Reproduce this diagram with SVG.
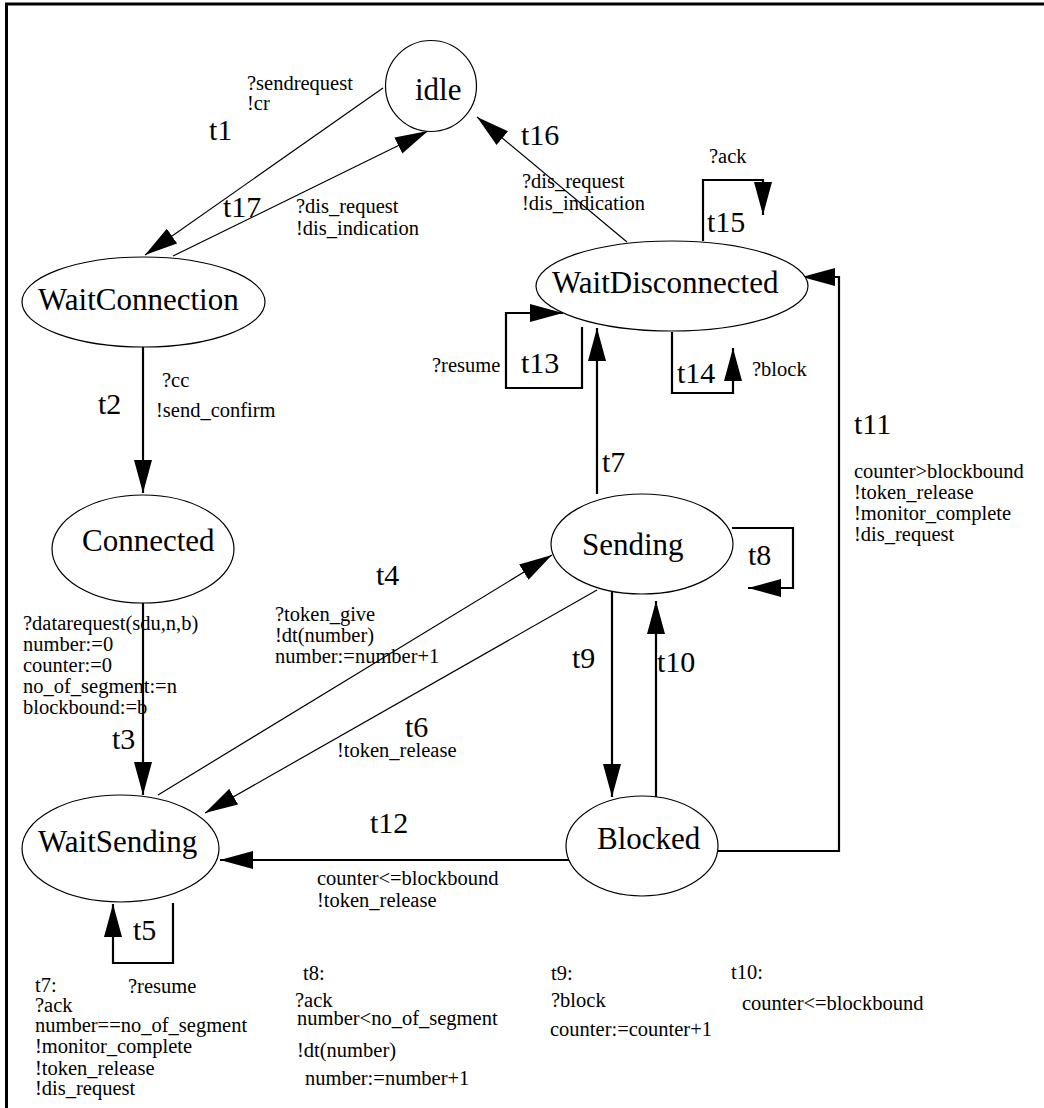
<svg xmlns="http://www.w3.org/2000/svg" width="1044" height="1108" viewBox="0 0 1044 1108">
<style>
text{font-family:"Liberation Serif","Times New Roman",serif;fill:#000}
.n{font-size:31px}
.t{font-size:30px}
.s{font-size:20.5px}
.node{fill:#fff;stroke:#000;stroke-width:1.2}
.d{fill:none;stroke:#000;stroke-width:1.2}
.o{fill:none;stroke:#000;stroke-width:2.2}
</style>
<defs>
<marker id="ah" viewBox="0 0 33 18" refX="33" refY="9" markerWidth="33" markerHeight="18" markerUnits="userSpaceOnUse" orient="auto">
<path d="M0,0 L33,9 L0,18 z" fill="#000"/>
</marker>
</defs>
<rect width="1044" height="1108" fill="#fff"/>
<path d="M6.5,1108 V4 H1044" fill="none" stroke="#000" stroke-width="3"/>

<g id="connectors">
<line class="d" x1="383" y1="88" x2="145" y2="255" marker-end="url(#ah)"/>
<line class="d" x1="173" y1="256" x2="428" y2="131" marker-end="url(#ah)"/>
<line class="d" x1="627" y1="242" x2="477" y2="117" marker-end="url(#ah)"/>
<line class="d" x1="158" y1="795" x2="552" y2="555" marker-end="url(#ah)"/>
<line class="d" x1="597" y1="590" x2="205" y2="813" marker-end="url(#ah)"/>
<line class="o" x1="143" y1="347" x2="143" y2="493" marker-end="url(#ah)"/>
<line class="o" x1="143" y1="603" x2="143" y2="795" marker-end="url(#ah)"/>
<line class="o" x1="597" y1="494" x2="597" y2="328" marker-end="url(#ah)"/>
<line class="o" x1="612" y1="588" x2="612" y2="797" marker-end="url(#ah)"/>
<line class="o" x1="656" y1="797" x2="656" y2="601" marker-end="url(#ah)"/>
<line class="o" x1="569" y1="860" x2="220" y2="860" marker-end="url(#ah)"/>
<path class="o" d="M718,851 H839 V277 H802" marker-end="url(#ah)"/>
<path class="o" d="M732,528 H793 V588 H748" marker-end="url(#ah)"/>
<path class="o" d="M582,327 V388 H506 V313 H563" marker-end="url(#ah)"/>
<path class="o" d="M672,332 V393 H733 V348" marker-end="url(#ah)"/>
<path class="o" d="M703,241 V180 H763 V215" marker-end="url(#ah)"/>
<path class="o" d="M173,903 V963 H113 V904" marker-end="url(#ah)"/>
</g>

<g id="idle"><circle class="node" cx="431" cy="86" r="45.5"/><text class="n" x="415" y="100">idle</text></g>
<g id="WaitConnection"><ellipse class="node" cx="143.5" cy="302" rx="121.5" ry="45"/><text class="n" x="38" y="310">WaitConnection</text></g>
<g id="WaitDisconnected"><ellipse class="node" cx="672" cy="286" rx="136" ry="45"/><text class="n" x="552" y="293">WaitDisconnected</text></g>
<g id="Connected"><ellipse class="node" cx="143" cy="549" rx="91" ry="54"/><text class="n" x="82" y="551">Connected</text></g>
<g id="Sending"><ellipse class="node" cx="642" cy="544" rx="91" ry="50"/><text class="n" x="582" y="555">Sending</text></g>
<g id="WaitSending"><ellipse class="node" cx="120.5" cy="848.5" rx="98.5" ry="53.5"/><text class="n" x="38" y="852">WaitSending</text></g>
<g id="Blocked"><ellipse class="node" cx="642" cy="846" rx="76" ry="50"/><text class="n" x="597" y="849">Blocked</text></g>

<g id="labels">
<text class="t" x="209" y="140">t1</text>
<text class="s" x="247" y="90">?sendrequest</text>
<text class="s" x="247" y="110">!cr</text>
<text class="t" x="223" y="217">t17</text>
<text class="s" x="296" y="213">?dis_request</text>
<text class="s" x="296" y="235">!dis_indication</text>
<text class="t" x="521" y="145">t16</text>
<text class="s" x="522" y="188">?dis_request</text>
<text class="s" x="522" y="210">!dis_indication</text>
<text class="s" x="709" y="163">?ack</text>
<text class="t" x="707" y="232">t15</text>
<text class="t" x="521" y="373">t13</text>
<text class="s" x="432" y="372">?resume</text>
<text class="t" x="677" y="383">t14</text>
<text class="s" x="752" y="376">?block</text>
<text class="t" x="854" y="434">t11</text>
<text class="s" x="854" y="478">counter&gt;blockbound</text>
<text class="s" x="854" y="499">!token_release</text>
<text class="s" x="854" y="520">!monitor_complete</text>
<text class="s" x="854" y="541">!dis_request</text>
<text class="t" x="98" y="414">t2</text>
<text class="s" x="162" y="387">?cc</text>
<text class="s" x="156" y="417">!send_confirm</text>
<text class="t" x="602" y="472">t7</text>
<text class="t" x="748" y="565">t8</text>
<text class="t" x="376" y="585">t4</text>
<text class="s" x="275" y="621">?token_give</text>
<text class="s" x="275" y="642">!dt(number)</text>
<text class="s" x="275" y="663">number:=number+1</text>
<text class="s" x="23" y="630">?datarequest(sdu,n,b)</text>
<text class="s" x="23" y="651">number:=0</text>
<text class="s" x="23" y="672">counter:=0</text>
<text class="s" x="23" y="693">no_of_segment:=n</text>
<text class="s" x="23" y="714">blockbound:=b</text>
<text class="t" x="112" y="749">t3</text>
<text class="t" x="405" y="737">t6</text>
<text class="s" x="337" y="757">!token_release</text>
<text class="t" x="572" y="668">t9</text>
<text class="t" x="657" y="672">t10</text>
<text class="t" x="370" y="833">t12</text>
<text class="s" x="317" y="885">counter&lt;=blockbound</text>
<text class="s" x="317" y="907">!token_release</text>
<text class="t" x="133" y="940">t5</text>
<text class="s" x="35" y="992">t7:</text>
<text class="s" x="128" y="993">?resume</text>
<text class="s" x="35" y="1012">?ack</text>
<text class="s" x="35" y="1032">number==no_of_segment</text>
<text class="s" x="35" y="1053">!monitor_complete</text>
<text class="s" x="35" y="1075">!token_release</text>
<text class="s" x="35" y="1095">!dis_request</text>
<text class="s" x="303" y="980">t8:</text>
<text class="s" x="295" y="1007">?ack</text>
<text class="s" x="297" y="1025">number&lt;no_of_segment</text>
<text class="s" x="297" y="1057">!dt(number)</text>
<text class="s" x="305" y="1085">number:=number+1</text>
<text class="s" x="551" y="980">t9:</text>
<text class="s" x="551" y="1007">?block</text>
<text class="s" x="550" y="1036">counter:=counter+1</text>
<text class="s" x="731" y="979">t10:</text>
<text class="s" x="742" y="1010">counter&lt;=blockbound</text>
</g>
</svg>
